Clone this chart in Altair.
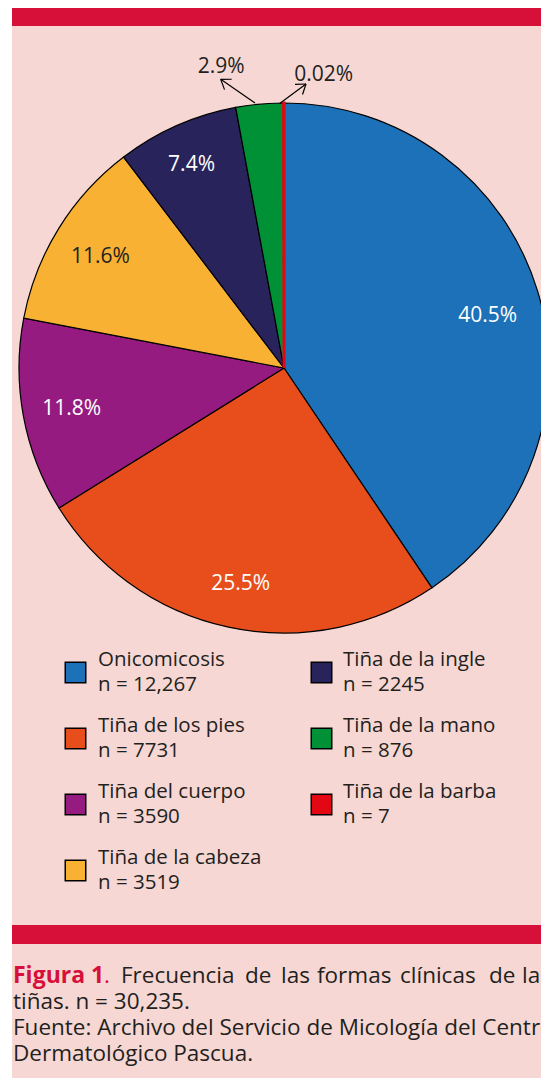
import math
import altair as alt
import pandas as pd

# ---------------- data ----------------
categories = ["Onicomicosis", "Tiña de los pies", "Tiña del cuerpo", "Tiña de la cabeza",
              "Tiña de la ingle", "Tiña de la mano", "Tiña de la barba"]
counts = [12267, 7731, 3590, 3519, 2245, 876, 7]
n_labels = ["n = 12,267", "n = 7731", "n = 3590", "n = 3519", "n = 2245", "n = 876", "n = 7"]
pct_labels = ["40.5%", "25.5%", "11.8%", "11.6%", "7.4%", "2.9%", "0.02%"]

caption_title = "Figura 1"
caption_first_words = ["Frecuencia", "de", "las", "formas", "clínicas", "de", "las"]
caption_lines = ["tiñas. n = 30,235.",
                 "Fuente: Archivo del Servicio de Micología del Centro",
                 "Dermatológico Pascua."]

# ---------------- style ----------------
colors = ["#1D71B8", "#E84E1B", "#951B81", "#F8B133", "#29235C", "#009036", "#E30613"]
label_colors = ["white", "white", "white", "#231F20", "white", "#231F20", "#231F20"]
PINK = "#F6D7D3"
CRIMSON = "#D7103A"
INK = "#231F20"
FONT = "Open Sans"
W, H = 533, 1070
CX, CY, R = 276, 360, 265

# label placement (radius, dx, dy) per slice
label_place = [(216, -3, 11), (216, 2, 5), (216, 0, 2), (216, 0, 3), (216, -5, -5),
               (302, -35, 0), (293, 40, 0)]

xs = alt.Scale(domain=[0, W], range=[0, W], nice=False, zero=False)
ys = alt.Scale(domain=[0, H], range=[0, H], nice=False, zero=False)

one = pd.DataFrame({"a": [0]})

bg = alt.Chart(one).mark_rect(color=PINK).encode(
    x=alt.value(4), x2=alt.value(W), y=alt.value(0), y2=alt.value(H))
top_bar = alt.Chart(one).mark_rect(color=CRIMSON).encode(
    x=alt.value(4), x2=alt.value(W), y=alt.value(0), y2=alt.value(18))
bot_bar = alt.Chart(one).mark_rect(color=CRIMSON).encode(
    x=alt.value(4), x2=alt.value(W), y=alt.value(917), y2=alt.value(936))

# ---------------- pie ----------------
pie_df = pd.DataFrame({
    "cat": categories,
    "count": counts,
    "idx": list(range(len(categories))),
    "pct": pct_labels,
})

base = alt.Chart(pie_df).encode(
    theta=alt.Theta("count:Q", stack=True),
    order=alt.Order("idx:Q"),
)

is_barba = "datum.idx == 6"
arcs = base.mark_arc(outerRadius=R).encode(
    color=alt.Color("cat:N", scale=alt.Scale(domain=categories, range=colors), legend=None),
    stroke=alt.condition(is_barba, alt.value(colors[6]), alt.value("black")),
    strokeWidth=alt.condition(is_barba, alt.value(3), alt.value(1.2)),
    x=alt.value(CX), y=alt.value(CY),
)


def label_layer(i):
    r, dx, dy = label_place[i]
    return base.transform_calculate(
        t=f"datum.idx == {i} ? datum.pct : ''"
    ).mark_text(radius=r, dx=dx, dy=dy, font=FONT, fontSize=21,
                color=label_colors[i], baseline="middle", align="center").encode(
        text="t:N", x=alt.value(CX), y=alt.value(CY))


labels = [label_layer(i) for i in range(len(categories))]

# ---------------- arrows ----------------
def arrow(tail, tip, arm=11, spread=35):
    ang = math.atan2(tail[1] - tip[1], tail[0] - tip[0])
    segs = [(tail, tip)]
    for s in (-spread, spread):
        a = ang + math.radians(s)
        segs.append((tip, (tip[0] + arm * math.cos(a), tip[1] + arm * math.sin(a))))
    return segs

segs = arrow((247, 95), (212.7, 71.3)) + arrow((272, 95.3), (298, 76))
arrow_df = pd.DataFrame({
    "x": [s[0][0] for s in segs], "y": [s[0][1] for s in segs],
    "x2": [s[1][0] for s in segs], "y2": [s[1][1] for s in segs],
})
arrows = alt.Chart(arrow_df).mark_rule(color="black", strokeWidth=1.2).encode(
    x=alt.X("x:Q", scale=xs, axis=None), y=alt.Y("y:Q", scale=ys, axis=None),
    x2="x2:Q", y2="y2:Q")

# ---------------- legend ----------------
leg_rows = []
for i, (c, n) in enumerate(zip(categories, n_labels)):
    col, row = i // 4, i % 4
    sx = [67.5, 313.5][col]
    sy = 664.5 + 66 * row
    leg_rows.append({"cat": c, "n": n, "sx": sx, "sy": sy,
                     "tx": sx + [22.5, 21.5][col], "ty1": sy - 6.5, "ty2": sy + 18.5})
leg_df = pd.DataFrame(leg_rows)

leg_sq = alt.Chart(leg_df).mark_square(size=420, opacity=1, stroke="black", strokeWidth=1.5).encode(
    x=alt.X("sx:Q", scale=xs, axis=None), y=alt.Y("sy:Q", scale=ys, axis=None),
    color=alt.Color("cat:N", scale=alt.Scale(domain=categories, range=colors), legend=None))
leg_t1 = alt.Chart(leg_df).mark_text(align="left", baseline="alphabetic", font=FONT,
                                     fontSize=20.5, color=INK).encode(
    x=alt.X("tx:Q", scale=xs, axis=None), y=alt.Y("ty1:Q", scale=ys, axis=None), text="cat:N")
leg_t2 = alt.Chart(leg_df).mark_text(align="left", baseline="alphabetic", font=FONT,
                                     fontSize=20.5, color=INK).encode(
    x=alt.X("tx:Q", scale=xs, axis=None), y=alt.Y("ty2:Q", scale=ys, axis=None), text="n:N")

# ---------------- caption ----------------
word_x = [113, 237, 273, 309, 392, 481, 514]
cap1_df = pd.DataFrame({"w": caption_first_words, "x": word_x, "y": [975] * len(word_x)})
cap1 = alt.Chart(cap1_df).mark_text(align="left", baseline="alphabetic", font=FONT,
                                    fontSize=22.5, color=INK).encode(
    x=alt.X("x:Q", scale=xs, axis=None), y=alt.Y("y:Q", scale=ys, axis=None), text="w:N")
title_df = pd.DataFrame({"w": [caption_title], "x": [5], "y": [975]})
cap_title = alt.Chart(title_df).mark_text(align="left", baseline="alphabetic", font=FONT,
                                          fontSize=23, fontWeight="bold", color=CRIMSON).encode(
    x=alt.X("x:Q", scale=xs, axis=None), y=alt.Y("y:Q", scale=ys, axis=None), text="w:N")
dot_df = pd.DataFrame({"w": ["."], "x": [96], "y": [975]})
cap_dot = alt.Chart(dot_df).mark_text(align="left", baseline="alphabetic", font=FONT,
                                      fontSize=22.5, color=CRIMSON).encode(
    x=alt.X("x:Q", scale=xs, axis=None), y=alt.Y("y:Q", scale=ys, axis=None), text="w:N")
rest_df = pd.DataFrame({"w": caption_lines, "x": [5, 5, 5], "y": [1001, 1027, 1053]})
cap_rest = alt.Chart(rest_df).mark_text(align="left", baseline="alphabetic", font=FONT,
                                        fontSize=22.5, color=INK).encode(
    x=alt.X("x:Q", scale=xs, axis=None), y=alt.Y("y:Q", scale=ys, axis=None), text="w:N")

chart = alt.layer(
    bg, top_bar, bot_bar, arcs, *labels, arrows, leg_sq, leg_t1, leg_t2,
    cap_title, cap_dot, cap1, cap_rest,
).properties(
    width=W, height=H, background="white", padding=0, autosize="none",
).configure_view(stroke=None)

chart.save("out.html", embed_options={"renderer": "svg", "actions": False})
